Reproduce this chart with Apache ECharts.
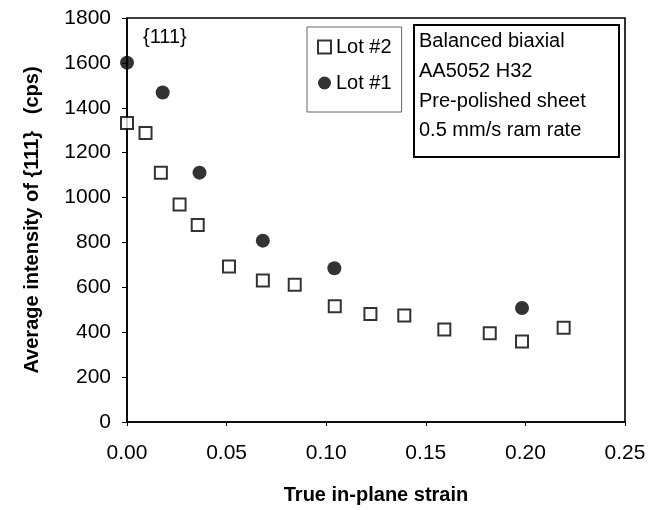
<!DOCTYPE html>
<html><head><meta charset="utf-8">
<script src="https://cdn.jsdelivr.net/npm/echarts@6/dist/echarts.min.js"></script>
<style>html,body{margin:0;padding:0;background:#fff}#c{width:649px;height:510px}</style>
</head><body><div id="c"></div>
<script>
var lot2X = [0.000, 0.0093, 0.0170, 0.0264, 0.0355, 0.0512, 0.0682, 0.0842, 0.1043, 0.1222, 0.1392, 0.1593, 0.1821, 0.1983, 0.2192];
var lot2Y = [1332, 1288, 1111, 969, 878, 693, 630, 612, 516, 481, 474, 412, 395, 359, 420];
var lot1X = [0.000, 0.0179, 0.0364, 0.0682, 0.1041, 0.1983];
var lot1Y = [1601, 1468, 1111, 808, 685, 508];
var xTicks = ['0.00','0.05','0.10','0.15','0.20','0.25'];
var infoLines = ['Balanced biaxial','AA5052 H32','Pre-polished sheet','0.5 mm/s ram rate'];

var font = 'Liberation Sans, Arial, sans-serif';
function pairs(xs, ys){ return xs.map(function(x,i){return [x, ys[i]];}); }

var chart = echarts.init(document.getElementById('c'));
chart.setOption({
  animation: false,
  backgroundColor: '#fff',
  grid: {left: 127, top: 18, width: 498, height: 405, show: true, borderColor: '#000', borderWidth: 1.6, backgroundColor: 'transparent'},
  xAxis: {
    type: 'value', min: 0, max: 0.25, interval: 0.05,
    name: 'True in-plane strain', nameLocation: 'middle', nameGap: 63,
    nameTextStyle: {fontFamily: font, fontSize: 20, fontWeight: 'bold', color: '#000'},
    axisLine: {show: true, onZero: false, lineStyle: {color: '#000', width: 1.6}},
    axisTick: {show: true, inside: false, length: 4, lineStyle: {color: '#000'}},
    splitLine: {show: false},
    axisLabel: {fontFamily: font, fontSize: 21, color: '#000', margin: 21,
      formatter: function(v){ return xTicks[Math.round(v/0.05)]; }}
  },
  yAxis: {
    type: 'value', min: 0, max: 1800, interval: 200,
    name: 'Average intensity of {111}   (cps)', nameLocation: 'middle', nameGap: 85,
    nameTextStyle: {fontFamily: font, fontSize: 20, fontWeight: 'bold', color: '#000'},
    axisLine: {show: true, lineStyle: {color: '#000', width: 1.6}},
    axisTick: {show: true, inside: false, length: 5, lineStyle: {color: '#000'}},
    splitLine: {show: false},
    axisLabel: {fontFamily: font, fontSize: 21, color: '#000', margin: 16,
      formatter: function(v){ return String(v); }}
  },
  legend: {
    orient: 'vertical', left: 307, top: 27,
    padding: [10, 10, 19, 10], itemGap: 16, itemWidth: 13, itemHeight: 13,
    borderColor: '#666', borderWidth: 1, backgroundColor: '#fff',
    textStyle: {fontFamily: font, fontSize: 20, color: '#000', lineHeight: 20},
    data: [
      {name: 'Lot #2', icon: 'rect', itemStyle: {color: '#fff', borderColor: '#000', borderWidth: 2}},
      {name: 'Lot #1', icon: 'circle', itemStyle: {color: '#000'}}
    ]
  },
  title: [{
    text: infoLines.join('\n'), left: 414, top: 25,
    padding: [2, 8, 12, 5],
    borderColor: '#000', borderWidth: 2,
    textStyle: {fontFamily: font, fontSize: 20, fontWeight: 'normal', color: '#000', lineHeight: 29.6, width: 192}
  }],
  graphic: [{type: 'text', left: 143, top: 27, style: {text: '{111}', font: '20px Liberation Sans, Arial, sans-serif', fill: '#000'}}],
  series: [
    {name: 'Lot #2', type: 'scatter', symbol: 'rect', symbolSize: 12,
     itemStyle: {color: '#fff', borderColor: '#000', borderWidth: 2}, data: pairs(lot2X, lot2Y)},
    {name: 'Lot #1', type: 'scatter', symbol: 'circle', symbolSize: 14,
     itemStyle: {color: '#000'}, data: pairs(lot1X, lot1Y)}
  ]
});
</script></body></html>
